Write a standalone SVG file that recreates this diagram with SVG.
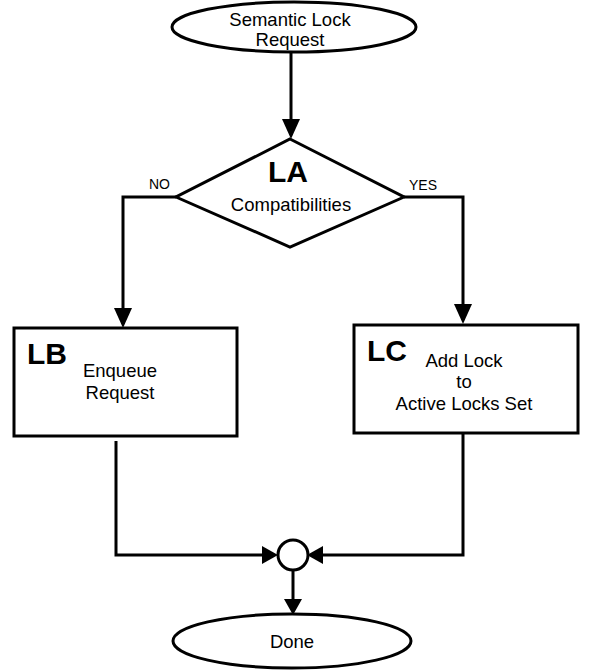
<svg xmlns="http://www.w3.org/2000/svg" width="589" height="672" viewBox="0 0 589 672">
<style>
.sh{fill:#fff;stroke:#000;stroke-width:3}
.ln{fill:none;stroke:#000;stroke-width:3}
.t{font-family:"Liberation Sans",Arial,sans-serif;font-size:18.5px;fill:#000;text-anchor:middle}
.b{font-family:"Liberation Sans",Arial,sans-serif;font-size:30px;font-weight:bold;fill:#000}
.s{font-family:"Liberation Sans",Arial,sans-serif;font-size:14px;fill:#000}
</style>
<defs>
<marker id="arr" markerUnits="userSpaceOnUse" markerWidth="20" markerHeight="18" refX="16" refY="9" orient="auto">
<path d="M0,0 L20,9 L0,18 Z" fill="#000"/>
</marker>
<marker id="arrS" markerUnits="userSpaceOnUse" markerWidth="16" markerHeight="18" refX="12" refY="9" orient="auto">
<path d="M0,0 L16,9 L0,18 Z" fill="#000"/>
</marker>
</defs>
<rect width="589" height="672" fill="#fff"/>
<g id="connectors">
<path class="ln" d="M291,52 L291,135" marker-end="url(#arr)"/>
<path class="ln" d="M176,197 L123,197 L123,324" marker-end="url(#arr)"/>
<path class="ln" d="M404,197 L463,197 L463,320" marker-end="url(#arr)"/>
<path class="ln" d="M116,441 L116,555 L274,555" marker-end="url(#arrS)"/>
<path class="ln" d="M463,433 L463,555 L311,555" marker-end="url(#arrS)"/>
<path class="ln" d="M293,570 L293,611" marker-end="url(#arrS)"/>
<text class="s" x="149" y="189">NO</text>
<text class="s" x="409" y="190">YES</text>
</g>
<g id="start">
<ellipse class="sh" cx="294" cy="27" rx="122" ry="25"/>
<text class="t" x="290" y="26">Semantic Lock</text>
<text class="t" x="290" y="46">Request</text>
</g>
<g id="LA">
<polygon class="sh" points="290,139 404,197 290,247 176,197"/>
<text class="b" x="288" y="182" text-anchor="middle">LA</text>
<text class="t" x="291" y="211">Compatibilities</text>
</g>
<g id="LB">
<rect class="sh" x="14" y="328" width="223" height="108"/>
<text class="b" x="27" y="364">LB</text>
<text class="t" x="120" y="377">Enqueue</text>
<text class="t" x="120" y="399">Request</text>
</g>
<g id="LC">
<rect class="sh" x="354" y="325" width="224" height="108"/>
<text class="b" x="367" y="361">LC</text>
<text class="t" x="464" y="367">Add Lock</text>
<text class="t" x="464" y="388">to</text>
<text class="t" x="464" y="410">Active Locks Set</text>
</g>
<g id="join">
<circle class="sh" cx="293" cy="555" r="15"/>
</g>
<g id="done">
<ellipse class="sh" cx="292" cy="641" rx="119" ry="27"/>
<text class="t" x="292" y="648">Done</text>
</g>
</svg>
